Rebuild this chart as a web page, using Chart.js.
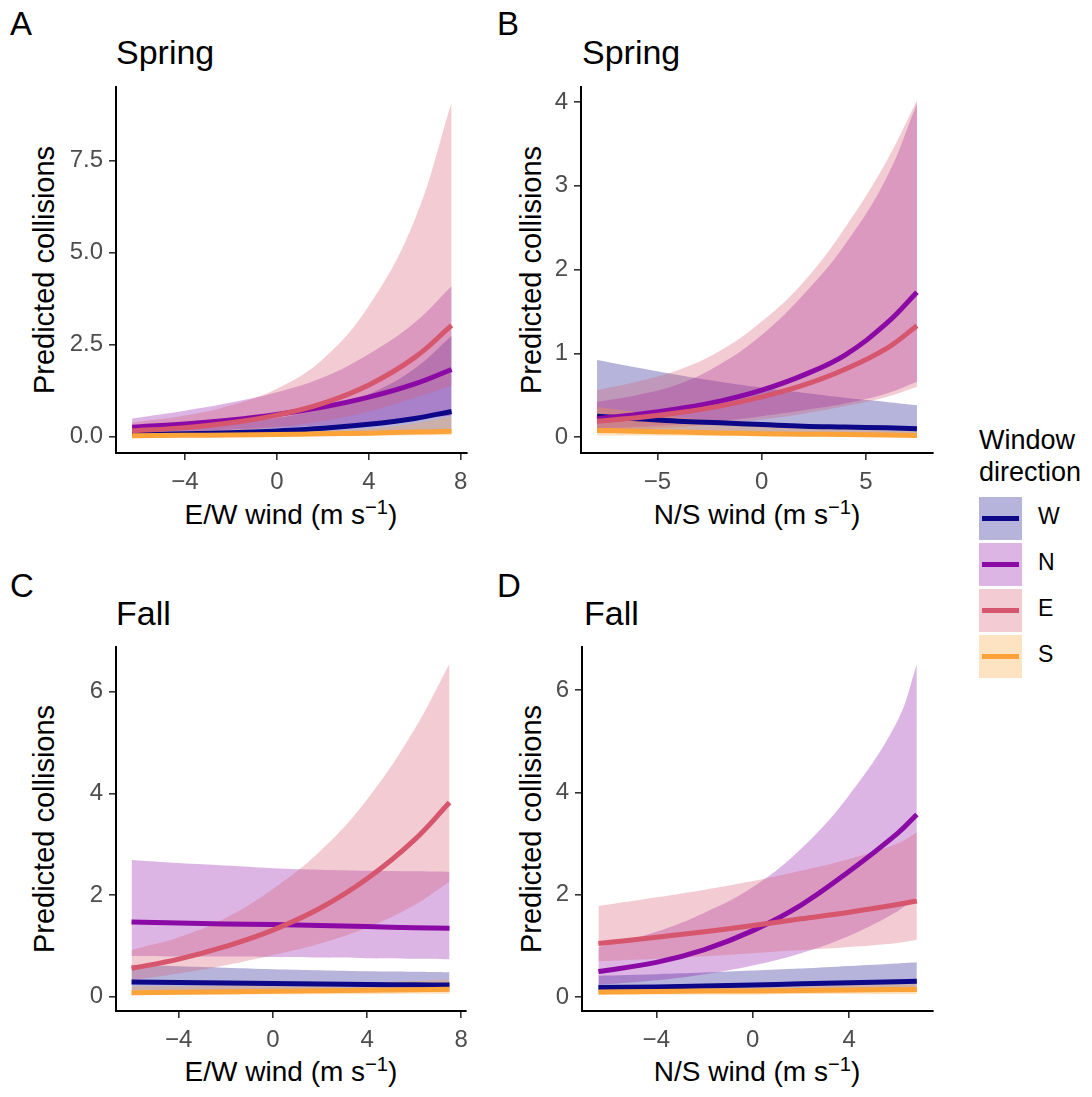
<!DOCTYPE html>
<html>
<head>
<meta charset="utf-8">
<script src="https://cdn.jsdelivr.net/npm/chart.js@4.4.1/dist/chart.umd.min.js"></script>
<style>
body{margin:0;background:#fff;width:1092px;height:1097px;position:relative;overflow:hidden;
font-family:"Liberation Sans",Arial,Helvetica,sans-serif}
.t{position:absolute;line-height:1;white-space:nowrap;color:#000}
.t sup{font-size:0.72em;vertical-align:0.5em;line-height:0}
.ylab{transform:translate(-50%,-50%) rotate(-90deg)}
.xlab{transform:translateX(-50%)}
canvas{position:absolute}
.key{position:absolute;width:43px;height:43px}
.key i{position:absolute;left:3px;top:19px;width:37px;height:5px}
</style>
</head>
<body>

<div class="t" style="left:10px;top:7px;font-size:33px">A</div>
<div class="t" style="left:497px;top:7px;font-size:33px">B</div>
<div class="t" style="left:10px;top:569px;font-size:33px">C</div>
<div class="t" style="left:497px;top:569px;font-size:33px">D</div>

<div class="t" style="left:116px;top:35px;font-size:34px">Spring</div>
<div class="t" style="left:582px;top:35px;font-size:34px">Spring</div>
<div class="t" style="left:116px;top:596px;font-size:34px">Fall</div>
<div class="t" style="left:584px;top:596px;font-size:34px">Fall</div>

<div class="t ylab" style="left:44px;top:270px;font-size:29px">Predicted collisions</div>
<div class="t ylab" style="left:531px;top:270px;font-size:29px">Predicted collisions</div>
<div class="t ylab" style="left:44px;top:829px;font-size:29px">Predicted collisions</div>
<div class="t ylab" style="left:531px;top:829px;font-size:29px">Predicted collisions</div>

<div class="t xlab" style="left:291px;top:501px;font-size:28px">E/W wind (m s<sup>−1</sup>)</div>
<div class="t xlab" style="left:757px;top:501px;font-size:28px">N/S wind (m s<sup>−1</sup>)</div>
<div class="t xlab" style="left:291px;top:1058px;font-size:28px">E/W wind (m s<sup>−1</sup>)</div>
<div class="t xlab" style="left:757px;top:1058px;font-size:28px">N/S wind (m s<sup>−1</sup>)</div>

<canvas id="pA" width="480" height="420" style="left:0;top:80px"></canvas>
<canvas id="pB" width="480" height="420" style="left:465px;top:80px"></canvas>
<canvas id="pC" width="480" height="420" style="left:0;top:640px"></canvas>
<canvas id="pD" width="480" height="420" style="left:466px;top:640px"></canvas>

<div id="legend"></div>

<script>
// window directions, drawn bottom to top in this order
const directions = ["W", "N", "E", "S"]

// A: spring, E/W wind
const springEWx = [-6.3, -4, -2, 0, 2, 4, 6, 7.6]
const springEW_W = [0.05, 0.07, 0.1, 0.15, 0.22, 0.33, 0.49, 0.68]
const springEW_Wlo = [0.01, 0.02, 0.03, 0.05, 0.07, 0.1, 0.14, 0.17]
const springEW_Whi = [0.2, 0.25, 0.35, 0.5, 0.75, 1.15, 1.85, 2.74]
const springEW_N = [0.25, 0.34, 0.45, 0.6, 0.8, 1.07, 1.43, 1.82]
const springEW_Nlo = [0.12, 0.15, 0.19, 0.24, 0.3, 0.38, 0.48, 0.57]
const springEW_Nhi = [0.49, 0.7, 0.92, 1.2, 1.6, 2.24, 3.1, 4.09]
const springEW_E = [0.15, 0.24, 0.37, 0.58, 0.9, 1.4, 2.15, 3.02]
const springEW_Elo = [0.06, 0.09, 0.15, 0.25, 0.42, 0.68, 1.05, 1.38]
const springEW_Ehi = [0.38, 0.57, 0.85, 1.3, 2.1, 3.55, 5.9, 9.08]
const springEW_S = [0.02, 0.03, 0.04, 0.05, 0.07, 0.09, 0.12, 0.14]
const springEW_Slo = [0.0, 0.01, 0.01, 0.02, 0.02, 0.02, 0.03, 0.03]
const springEW_Shi = [0.05, 0.06, 0.08, 0.1, 0.15, 0.22, 0.36, 0.55]

// B: spring, N/S wind
const springNSx = [-7.9, -6, -4, -2, 0, 2, 4, 6, 7.45]
const springNS_W = [0.25, 0.22, 0.19, 0.17, 0.15, 0.13, 0.12, 0.11, 0.1]
const springNS_Wlo = [0.07, 0.065, 0.06, 0.05, 0.045, 0.04, 0.035, 0.03, 0.025]
const springNS_Whi = [0.92, 0.83, 0.74, 0.66, 0.59, 0.53, 0.47, 0.42, 0.38]
const springNS_N = [0.22, 0.27, 0.34, 0.43, 0.56, 0.74, 0.98, 1.36, 1.73]
const springNS_Nlo = [0.1, 0.12, 0.15, 0.19, 0.25, 0.32, 0.4, 0.52, 0.66]
const springNS_Nhi = [0.42, 0.5, 0.63, 0.87, 1.22, 1.7, 2.3, 3.1, 3.98]
const springNS_E = [0.19, 0.23, 0.29, 0.37, 0.48, 0.62, 0.81, 1.06, 1.33]
const springNS_Elo = [0.07, 0.09, 0.12, 0.16, 0.21, 0.28, 0.37, 0.48, 0.6]
const springNS_Ehi = [0.56, 0.66, 0.8, 1.03, 1.38, 1.85, 2.5, 3.3, 4.02]
const springNS_S = [0.08, 0.07, 0.06, 0.05, 0.04, 0.035, 0.03, 0.025, 0.02]
const springNS_Slo = [0.02, 0.018, 0.015, 0.012, 0.01, 0.008, 0.006, 0.005, 0.004]
const springNS_Shi = [0.36, 0.3, 0.24, 0.19, 0.15, 0.12, 0.1, 0.08, 0.07]

// C: fall, E/W wind
const fallEWx = [-6, -4, -2, 0, 2, 4, 6, 7.5]
const fallEW_W = [0.29, 0.28, 0.27, 0.26, 0.25, 0.24, 0.235, 0.23]
const fallEW_Wlo = [0.13, 0.12, 0.12, 0.11, 0.11, 0.1, 0.1, 0.1]
const fallEW_Whi = [0.63, 0.6, 0.57, 0.54, 0.52, 0.5, 0.49, 0.48]
const fallEW_N = [1.47, 1.45, 1.43, 1.42, 1.4, 1.38, 1.36, 1.35]
const fallEW_Nlo = [0.8, 0.79, 0.79, 0.78, 0.77, 0.76, 0.75, 0.74]
const fallEW_Nhi = [2.69, 2.63, 2.58, 2.53, 2.5, 2.48, 2.47, 2.46]
const fallEW_E = [0.56, 0.74, 0.99, 1.31, 1.74, 2.32, 3.08, 3.82]
const fallEW_Elo = [0.33, 0.46, 0.62, 0.82, 1.05, 1.36, 1.8, 2.26]
const fallEW_Ehi = [0.92, 1.17, 1.55, 2.12, 2.86, 3.88, 5.25, 6.55]
const fallEW_S = [0.08, 0.09, 0.1, 0.11, 0.12, 0.13, 0.14, 0.15]
const fallEW_Slo = [0.03, 0.04, 0.04, 0.05, 0.05, 0.05, 0.06, 0.06]
const fallEW_Shi = [0.2, 0.21, 0.22, 0.24, 0.26, 0.28, 0.31, 0.34]

// D: fall, N/S wind
const fallNSx = [-6.4, -4, -2, 0, 2, 4, 6, 6.8]
const fallNS_W = [0.19, 0.2, 0.22, 0.24, 0.26, 0.28, 0.3, 0.31]
const fallNS_Wlo = [0.08, 0.09, 0.1, 0.11, 0.12, 0.13, 0.14, 0.15]
const fallNS_Whi = [0.42, 0.45, 0.48, 0.52, 0.56, 0.61, 0.66, 0.68]
const fallNS_N = [0.5, 0.68, 0.93, 1.3, 1.8, 2.46, 3.2, 3.57]
const fallNS_Nlo = [0.24, 0.33, 0.45, 0.62, 0.86, 1.2, 1.68, 1.95]
const fallNS_Nhi = [0.98, 1.28, 1.65, 2.15, 2.9, 3.95, 5.4, 6.5]
const fallNS_E = [1.05, 1.17, 1.28, 1.4, 1.53, 1.66, 1.81, 1.88]
const fallNS_Elo = [0.7, 0.75, 0.8, 0.86, 0.92, 0.98, 1.06, 1.12]
const fallNS_Ehi = [1.78, 1.95, 2.1, 2.27, 2.47, 2.7, 3.0, 3.22]
const fallNS_S = [0.1, 0.11, 0.12, 0.12, 0.13, 0.14, 0.15, 0.15]
const fallNS_Slo = [0.04, 0.05, 0.05, 0.05, 0.06, 0.06, 0.06, 0.06]
const fallNS_Shi = [0.22, 0.22, 0.23, 0.24, 0.25, 0.27, 0.29, 0.3]

// axis ticks
const ewTicks = [-4, 0, 4, 8]
const nsSpringTicks = [-5, 0, 5]
const nsFallTicks = [-4, 0, 4]
const springEWyTicks = [0, 2.5, 5, 7.5]
const springNSyTicks = [0, 1, 2, 3, 4]
const fallYTicks = [0, 2, 4, 6]

const FONT = '"Liberation Sans", Arial, Helvetica, sans-serif'
const lineCol = {W: "#0d0887", N: "#8b0aa5", E: "#d6566d", S: "#fba238"}
const bandCol = {W: "rgba(13,8,135,0.3)", N: "rgba(139,10,165,0.3)", E: "rgba(214,86,109,0.3)", S: "rgba(251,162,56,0.3)"}

function pts(xs, ys){
  return xs.map((x, i) => ({x: x, y: ys[i]}))
}

function fmt(v, digits){
  const s = Math.abs(v).toFixed(digits)
  return v < 0 ? "\u2212" + s : s
}

// keep the plot area fixed: no extra room for overhanging tick labels
function noLabelPadding(s){
  s.paddingTop = 0
  s.paddingBottom = 0
  s.paddingLeft = 0
  s.paddingRight = 0
}

function panel(id, xs, series, o){
  const datasets = []
  // ribbons first (W at the bottom), then the fitted lines
  directions.forEach((d, k) => {
    const s = series[d]
    datasets.push({data: pts(xs, s.lo), borderWidth: 0, pointRadius: 0, fill: false,
      tension: 0.4, order: 7 - k})
    datasets.push({data: pts(xs, s.hi), borderWidth: 0, pointRadius: 0, fill: "-1",
      backgroundColor: bandCol[d], tension: 0.4, order: 7 - k})
  })
  directions.forEach((d, k) => {
    datasets.push({data: pts(xs, series[d].fit), borderColor: lineCol[d], borderWidth: 5,
      pointRadius: 0, fill: false, tension: 0.4, order: 3 - k})
  })

  const axisCommon = {
    type: "linear",
    grid: {drawOnChartArea: false, drawTicks: true, tickLength: 7, color: "#333", lineWidth: 1.6},
    border: {display: true, color: "#000", width: 2}
  }

  new Chart(document.getElementById(id), {
    type: "line",
    data: {datasets: datasets},
    options: {
      responsive: false,
      animation: false,
      devicePixelRatio: 1,
      layout: {padding: {left: 0, top: 7, right: o.padRight, bottom: 0}},
      plugins: {legend: {display: false}, tooltip: {enabled: false}},
      scales: {
        x: Object.assign({}, axisCommon, {
          min: o.xMin, max: o.xMax,
          afterBuildTicks: s => { s.ticks = o.xTicks.map(v => ({value: v})) },
          afterFit: s => { s.height = o.xAxisH; noLabelPadding(s) },
          ticks: {color: "#4d4d4d", font: {size: 24, family: FONT}, padding: 8,
            maxRotation: 0, autoSkip: false, callback: v => fmt(v, 0)}
        }),
        y: Object.assign({}, axisCommon, {
          min: o.yMin, max: o.yMax,
          afterBuildTicks: s => { s.ticks = o.yTicks.map(v => ({value: v})) },
          afterFit: s => { s.width = 116; noLabelPadding(s) },
          ticks: {color: "#4d4d4d", font: {size: 24, family: FONT}, padding: 6,
            autoSkip: false, callback: v => fmt(v, o.yDigits)}
        })
      }
    }
  })
}

panel("pA", springEWx, {
  W: {fit: springEW_W, lo: springEW_Wlo, hi: springEW_Whi},
  N: {fit: springEW_N, lo: springEW_Nlo, hi: springEW_Nhi},
  E: {fit: springEW_E, lo: springEW_Elo, hi: springEW_Ehi},
  S: {fit: springEW_S, lo: springEW_Slo, hi: springEW_Shi}
}, {xMin: -7.0, xMax: 8.27, yMin: -0.45, yMax: 9.5, xTicks: ewTicks, yTicks: springEWyTicks,
  yDigits: 1, padRight: 13, xAxisH: 47})

panel("pB", springNSx, {
  W: {fit: springNS_W, lo: springNS_Wlo, hi: springNS_Whi},
  N: {fit: springNS_N, lo: springNS_Nlo, hi: springNS_Nhi},
  E: {fit: springNS_E, lo: springNS_Elo, hi: springNS_Ehi},
  S: {fit: springNS_S, lo: springNS_Slo, hi: springNS_Shi}
}, {xMin: -8.67, xMax: 8.22, yMin: -0.19, yMax: 4.18, xTicks: nsSpringTicks, yTicks: springNSyTicks,
  yDigits: 0, padRight: 12, xAxisH: 47})

panel("pC", fallEWx, {
  W: {fit: fallEW_W, lo: fallEW_Wlo, hi: fallEW_Whi},
  N: {fit: fallEW_N, lo: fallEW_Nlo, hi: fallEW_Nhi},
  E: {fit: fallEW_E, lo: fallEW_Elo, hi: fallEW_Ehi},
  S: {fit: fallEW_S, lo: fallEW_Slo, hi: fallEW_Shi}
}, {xMin: -6.66, xMax: 8.2, yMin: -0.28, yMax: 6.88, xTicks: ewTicks, yTicks: fallYTicks,
  yDigits: 0, padRight: 14, xAxisH: 49})

panel("pD", fallNSx, {
  W: {fit: fallNS_W, lo: fallNS_Wlo, hi: fallNS_Whi},
  N: {fit: fallNS_N, lo: fallNS_Nlo, hi: fallNS_Nhi},
  E: {fit: fallNS_E, lo: fallNS_Elo, hi: fallNS_Ehi},
  S: {fit: fallNS_S, lo: fallNS_Slo, hi: fallNS_Shi}
}, {xMin: -7.08, xMax: 7.47, yMin: -0.27, yMax: 6.84, xTicks: nsFallTicks, yTicks: fallYTicks,
  yDigits: 0, padRight: 13, xAxisH: 49})

// legend
let html = '<div class="t" style="left:979px;top:424px;font-size:27px;line-height:32px">Window<br>direction</div>'
directions.forEach((d, k) => {
  const top = 497 + 46 * k
  html += `<div class="key" style="left:979px;top:${top}px;background:${bandCol[d]}"><i style="background:${lineCol[d]}"></i></div>`
  html += `<div class="t" style="left:1038px;top:${top + 8}px;font-size:23px">${d}</div>`
})
document.getElementById("legend").innerHTML = html
</script>
</body>
</html>
